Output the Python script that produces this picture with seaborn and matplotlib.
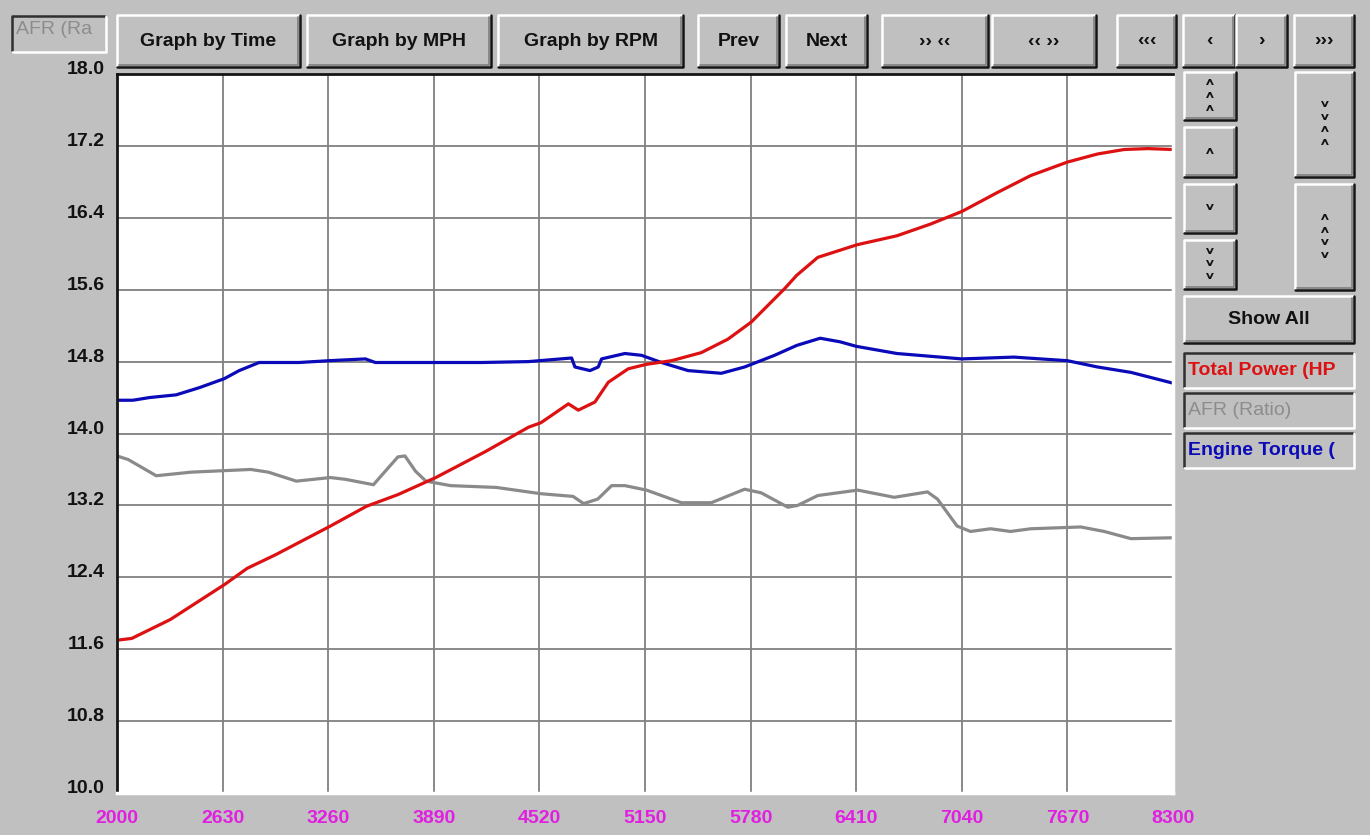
import matplotlib
matplotlib.use("Agg")
import matplotlib.pyplot as plt
from matplotlib.lines import Line2D
from matplotlib.patches import Rectangle
import seaborn as sns

# readings taken off the dyno screen (rpm -> scaled value)
power_rpm = [2000, 2088, 2318, 2642, 2777, 2945, 3273, 3488, 3676, 3902, 4199, 4455,
             4529, 4693, 4752, 4851, 4931, 5050, 5159, 5308, 5486, 5645, 5784, 5982,
             6055, 6181, 6415, 6653, 6853, 7040, 7251, 7451, 7670, 7850, 8009, 8149, 8300]
power = [11.70, 11.72, 11.93, 12.32, 12.50, 12.65, 12.97, 13.19, 13.32, 13.51, 13.80, 14.07,
         14.12, 14.33, 14.26, 14.35, 14.57, 14.72, 14.77, 14.81, 14.90, 15.05, 15.24, 15.61,
         15.76, 15.96, 16.10, 16.20, 16.33, 16.47, 16.68, 16.87, 17.02, 17.11, 17.16, 17.17, 17.16]

afr_rpm = [2000, 2067, 2234, 2443, 2798, 2903, 3070, 3273, 3363, 3530, 3572, 3676, 3718,
           3781, 3843, 3990, 4262, 4529, 4721, 4784, 4868, 4951, 5030, 5159, 5367, 5546,
           5744, 5843, 6002, 6061, 6181, 6419, 6637, 6835, 6895, 7012, 7092, 7212, 7331,
           7451, 7750, 7890, 8049, 8300]
afr = [13.75, 13.71, 13.53, 13.57, 13.60, 13.57, 13.47, 13.51, 13.49, 13.43, 13.52, 13.74, 13.75,
       13.58, 13.47, 13.42, 13.40, 13.33, 13.30, 13.22, 13.27, 13.42, 13.42, 13.37, 13.23, 13.23,
       13.38, 13.34, 13.18, 13.20, 13.31, 13.37, 13.29, 13.35, 13.27, 12.97, 12.91, 12.94, 12.91,
       12.94, 12.96, 12.91, 12.83, 12.84]

torque_rpm = [2000, 2095, 2194, 2353, 2491, 2640, 2729, 2848, 3086, 3264, 3482, 3541, 3892,
              4175, 4455, 4712, 4732, 4822, 4871, 4891, 5030, 5129, 5248, 5407, 5605, 5744,
              5923, 6055, 6195, 6314, 6410, 6653, 7040, 7351, 7670, 7850, 8049, 8300]
torque = [14.37, 14.37, 14.40, 14.43, 14.51, 14.61, 14.70, 14.79, 14.79, 14.81, 14.83, 14.79, 14.79,
          14.79, 14.80, 14.84, 14.74, 14.70, 14.74, 14.83, 14.89, 14.87, 14.79, 14.70, 14.67, 14.74,
          14.87, 14.98, 15.06, 15.02, 14.97, 14.89, 14.83, 14.85, 14.81, 14.74, 14.68, 14.56]

x_ticks = [2000, 2630, 3260, 3890, 4520, 5150, 5780, 6410, 7040, 7670, 8300]
y_ticks = [10.0, 10.8, 11.6, 12.4, 13.2, 14.0, 14.8, 15.6, 16.4, 17.2, 18.0]

top_buttons = ["Graph by Time", "Graph by MPH", "Graph by RPM", "Prev", "Next",
               "\u203a\u203a \u2039\u2039", "\u2039\u2039 \u203a\u203a",
               "\u2039\u2039\u2039", "\u2039", "\u203a", "\u203a\u203a\u203a"]
channels = ["Total Power (HP", "AFR (Ratio)", "Engine Torque ("]

W, H = 1370, 835
FACE = "#c0c0c0"
RED, GRAY, BLUE = "#dd1111", "#8a8a8a", "#0a0ab8"
UP, DN = "\u02c4", "\u02c5"


def fx(x):
    return x / W


def fy(y):
    return 1 - y / H


def box(fig, x0, y0, x1, y1, raised=True):
    tr = fig.transFigure
    fig.add_artist(Rectangle((fx(x0), fy(y1)), fx(x1) - fx(x0), fy(y0) - fy(y1),
                             transform=tr, facecolor=FACE, edgecolor="none"))
    hi, lo = ("white", "#151515") if raised else ("#303030", "white")
    fig.add_artist(Line2D([fx(x0), fx(x0), fx(x1)], [fy(y1), fy(y0), fy(y0)],
                          transform=tr, color=hi, lw=1.8))
    fig.add_artist(Line2D([fx(x0), fx(x1), fx(x1)], [fy(y1), fy(y1), fy(y0)],
                          transform=tr, color=lo, lw=1.8))
    if raised:
        fig.add_artist(Line2D([fx(x0 + 2), fx(x1 - 2), fx(x1 - 2)], [fy(y1 - 2), fy(y1 - 2), fy(y0 + 2)],
                              transform=tr, color="#808080", lw=1.2))


def label(fig, x, y, s, **kw):
    kw.setdefault("fontsize", 14)
    kw.setdefault("fontweight", "bold")
    kw.setdefault("ha", "center")
    kw.setdefault("va", "center")
    kw.setdefault("color", "#111111")
    fig.text(fx(x), fy(y), s, **kw)


def chevrons(fig, x, y, s):
    # the modifier arrowheads sit high in their line box, so push the stack down
    label(fig, x, y + 9, s, fontsize=17, linespacing=0.42, family="DejaVu Sans")


sns.set_style("white", rc={"axes.facecolor": "white", "figure.facecolor": FACE})
plt.rcParams["font.family"] = ["Liberation Sans", "DejaVu Sans"]

fig = plt.figure(figsize=(W / 100, H / 100), dpi=100)
ax = fig.add_axes([fx(117), fy(793), (1173 - 117) / W, (793 - 74) / H])

sns.lineplot(x=afr_rpm, y=afr, color=GRAY, lw=2.3, ax=ax)
sns.lineplot(x=torque_rpm, y=torque, color=BLUE, lw=2.3, ax=ax)
sns.lineplot(x=power_rpm, y=power, color=RED, lw=2.3, ax=ax)

ax.set_xlim(2000, 8300)
ax.set_ylim(10, 18)
ax.set_xticks(x_ticks)
ax.set_yticks(y_ticks)
ax.set_xticklabels([str(t) for t in x_ticks], color="#e020e0", fontweight="bold", fontsize=14)
ax.set_yticklabels([f"{t:.1f}" for t in y_ticks], color="#111111", fontweight="bold",
                   fontsize=14, va="baseline")
ax.tick_params(length=0)
ax.tick_params(axis="x", pad=12)
ax.tick_params(axis="y", pad=9)
ax.grid(True, color="#808080", lw=1.3)
ax.set_axisbelow(True)
for side in ["left", "top"]:
    ax.spines[side].set_color("#151515")
    ax.spines[side].set_linewidth(2)
for side in ["right", "bottom"]:
    ax.spines[side].set_color("white")
    ax.spines[side].set_linewidth(2.5)
ax.set_xlabel("")
ax.set_ylabel("")

# channel selector at top-left
box(fig, 12, 16, 106, 52, raised=False)
label(fig, 16, 30, "AFR (Ra", ha="left", fontweight="normal", color="#8c8c8c", fontsize=14)

# top row of buttons
spans = [(117, 300), (307, 491), (498, 683), (698, 779), (786, 867), (882, 988),
         (992, 1096), (1117, 1176), (1183, 1235), (1236, 1287), (1294, 1354)]
for (x0, x1), name in zip(spans, top_buttons):
    box(fig, x0, 15, x1, 67)
    label(fig, (x0 + x1) / 2, 41, name)

# vertical zoom buttons
small = [(72, 120, "\n".join([UP] * 3)), (127, 177, UP), (184, 233, DN), (240, 289, "\n".join([DN] * 3))]
for y0, y1, s in small:
    box(fig, 1184, y0, 1236, y1)
    chevrons(fig, 1210, (y0 + y1) / 2, s)
box(fig, 1295, 72, 1354, 177)
chevrons(fig, 1324.5, 124, "\n".join([DN, DN, UP, UP]))
box(fig, 1295, 184, 1354, 290)
chevrons(fig, 1324.5, 237, "\n".join([UP, UP, DN, DN]))

box(fig, 1184, 296, 1354, 343)
label(fig, 1269, 320, "Show All")

# channel legend boxes
for (y0, y1), name, col, wt in zip([(353, 388), (393, 428), (433, 468)], channels,
                                   [RED, "#8c8c8c", BLUE], ["bold", "normal", "bold"]):
    box(fig, 1184, y0, 1354, y1, raised=False)
    label(fig, 1188, (y0 + y1) / 2, name, ha="left", color=col, fontweight=wt)

fig.savefig("out.png", dpi=100, facecolor=FACE)
